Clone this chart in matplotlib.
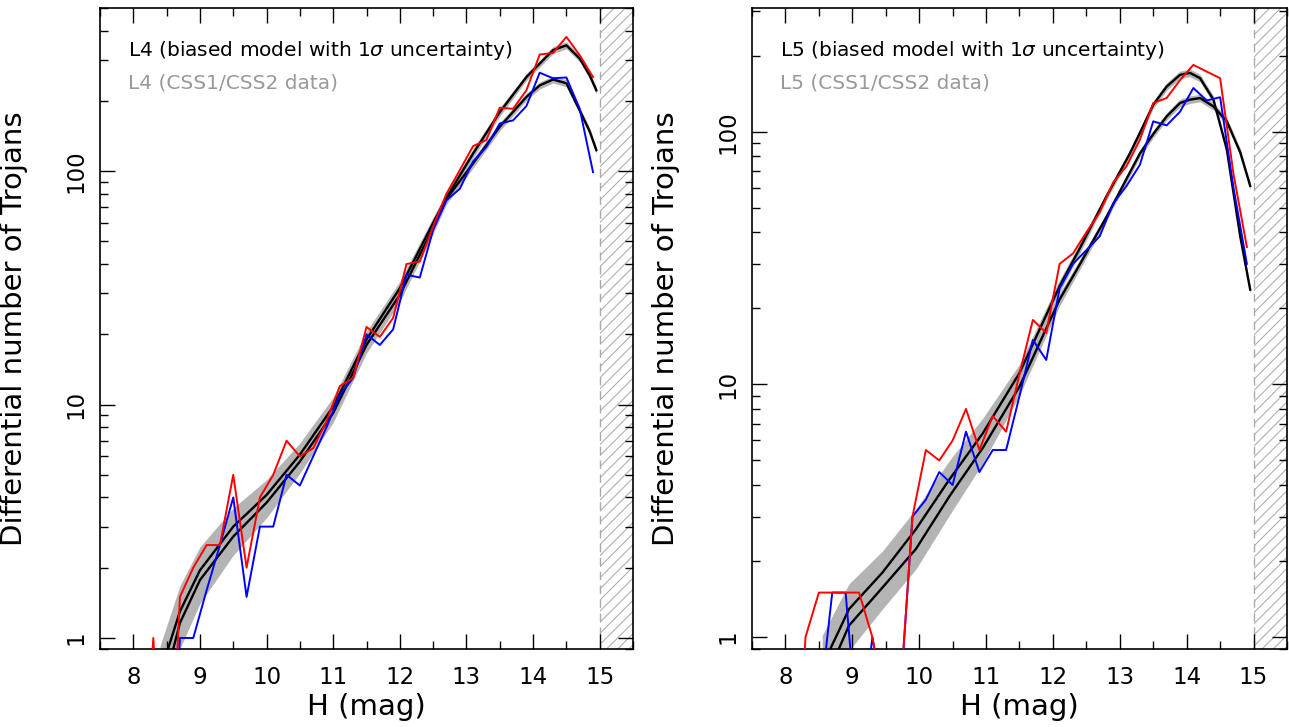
import numpy as np
import matplotlib
matplotlib.use("Agg")
import matplotlib.pyplot as plt

plt.rcParams["hatch.linewidth"] = 0.8

# binned data (bin centres in H)
h_bins = [8.1, 8.3, 8.5, 8.7, 8.9, 9.1, 9.3, 9.5, 9.7, 9.9, 10.1, 10.3, 10.5, 10.7,
          10.9, 11.1, 11.3, 11.5, 11.7, 11.9, 12.1, 12.3, 12.5, 12.7, 12.9, 13.1,
          13.3, 13.5, 13.7, 13.9, 14.1, 14.3, 14.5, 14.7, 14.9]

l4_red = [0.1, 1, 0.1, 1.5, 2, 2.5, 2.5, 5, 2, 4, 5, 7, 6, 6.5,
          8.5, 12, 13, 21.5, 19.5, 23.5, 40, 41, 58, 80, 101, 128,
          136, 187, 185, 222, 316, 321, 376, 314, 253]
l4_blue = [0.1, 0.1, 0.1, 1, 1, 1.6, 2.5, 4, 1.5, 3, 3, 5, 4.5, 6,
           8, 11, 13, 20, 18, 21, 36, 35, 56, 75, 84, 110,
           127, 160, 165, 190, 264, 250, 252, 185, 99]

l5_red = [0.1, 1, 1.5, 1.5, 1.5, 1.5, 1, 0.5, 0.5, 3, 5.5, 5, 6, 8,
          5.5, 7.5, 6.5, 11, 18, 16, 30, 33, 40, 48, 63, 73,
          93, 130, 136, 160, 184, 173, 163, 68, 35]
l5_blue = [0.1, 0.1, 0.5, 1.5, 1.5, 0.35, 1, 0.5, 0.5, 3, 3.5, 4.5, 4, 6.5,
           4.5, 5.5, 5.5, 9, 15, 12.5, 24, 30, 34, 38.6, 52, 61,
           74, 110, 106, 120, 149, 133, 137, 60, 30]

# model curves (two fits per cloud) and 1-sigma band half width in dex
l4_model_h = [8.4, 8.7, 9.0, 9.5, 10.0, 10.5, 11.0, 11.5, 12.0, 12.5, 12.7, 13.1,
              13.5, 13.9, 14.1, 14.3, 14.5, 14.7, 14.85, 14.95]
l4_model_a = [0.70, 1.30, 1.95, 3.0, 4.1, 6.1, 9.8, 19, 31.5, 60, 77, 119,
              179, 253, 289, 330, 346, 304, 257, 222]
l4_model_b = [0.54, 1.16, 1.77, 2.72, 3.8, 5.7, 9.2, 18, 29.5, 57, 76, 108,
              155, 208, 233, 247, 238, 182, 148, 123]
l4_band = [0.12, 0.11, 0.10, 0.08, 0.065, 0.05, 0.04, 0.035, 0.03, 0.025, 0.022, 0.02,
           0.018, 0.015, 0.015, 0.015, 0.015, 0.015, 0.015, 0.015]

l5_model_h = [8.55, 8.8, 8.95, 9.45, 9.95, 10.45, 10.95, 11.5, 12.1, 12.4, 12.8, 13.15,
              13.3, 13.5, 13.7, 13.9, 14.05, 14.2, 14.4, 14.6, 14.8, 14.95]
l5_model_a = [0.77, 1.06, 1.29, 1.8, 2.67, 4.2, 6.4, 11.1, 24.5, 34.5, 55.5, 82,
              99, 128, 151, 168, 171, 163, 134, 85, 38.6, 23.7]
l5_model_b = [0.63, 0.9, 1.11, 1.57, 2.23, 3.6, 5.6, 9.8, 21.7, 29.8, 46, 69,
              82, 98, 115, 130, 134, 136, 126, 110, 83, 61]
l5_band = [0.12, 0.11, 0.10, 0.085, 0.08, 0.075, 0.06, 0.035, 0.025, 0.02, 0.015, 0.015,
           0.015, 0.015, 0.015, 0.015, 0.015, 0.015, 0.015, 0.015, 0.015, 0.015]


def draw_panel(ax, name, mh, ma, mb, band, red, blue, ymax):
    mh = np.array(mh)
    w = 10 ** np.array(band)
    for m in (np.array(ma), np.array(mb)):
        ax.fill_between(mh, m / w, m * w, color="#b4b4b4", lw=0, zorder=1)
    for m in (ma, mb):
        ax.plot(mh, m, color="black", lw=1.7, zorder=2)
    ax.plot(h_bins, blue, color="#0000ff", lw=1.4, zorder=3)
    ax.plot(h_bins, red, color="#ff0000", lw=1.4, zorder=4)

    # magnitude limit
    ax.axvspan(15, 15.5, facecolor="none", edgecolor="#b0b0b0", hatch="///",
               lw=0, zorder=0)
    ax.axvline(15, color="#aaaaaa", lw=1, ls=(0, (6, 4)), zorder=0)

    ax.set_yscale("log")
    ax.set_xlim(7.5, 15.5)
    ax.set_ylim(0.897, ymax)
    ax.set_xticks(range(8, 16))
    ax.set_xticks(np.arange(7.5, 15.6, 0.5), minor=True)
    ax.set_yticks([1, 10, 100])
    ax.set_yticklabels(["1", "10", "100"], rotation=90, va="center")
    ax.tick_params(which="both", direction="in", top=True, right=True, width=1)
    ax.tick_params(which="major", length=11, labelsize=16.5)
    ax.tick_params(which="minor", length=5.5)
    ax.tick_params(axis="x", which="major", pad=12)
    ax.tick_params(axis="y", which="major", pad=9)
    for s in ax.spines.values():
        s.set_linewidth(1.2)

    ax.set_xlabel("H (mag)", fontsize=21)
    ax.xaxis.set_label_coords(0.5, -0.068)
    ax.set_ylabel("Differential number of Trojans", fontsize=21)
    ax.yaxis.set_label_coords(-0.135, 0.5)

    ax.text(0.053, 0.934, name + r" (biased model with 1$\sigma$ uncertainty)",
            transform=ax.transAxes, fontsize=14.5, va="center", color="black")
    ax.text(0.053, 0.883, name + " (CSS1/CSS2 data)",
            transform=ax.transAxes, fontsize=14.5, va="center", color="#999999")


fig = plt.figure(figsize=(12.89, 7.27), dpi=100)
ax_l4 = fig.add_axes([100 / 1289, 1 - 649 / 727, 533 / 1289, 641 / 727])
ax_l5 = fig.add_axes([752 / 1289, 1 - 649 / 727, 535 / 1289, 641 / 727])

draw_panel(ax_l4, "L4", l4_model_h, l4_model_a, l4_model_b, l4_band, l4_red, l4_blue, 500)
draw_panel(ax_l5, "L5", l5_model_h, l5_model_a, l5_model_b, l5_band, l5_red, l5_blue, 309)

fig.savefig("out.png", dpi=100)
